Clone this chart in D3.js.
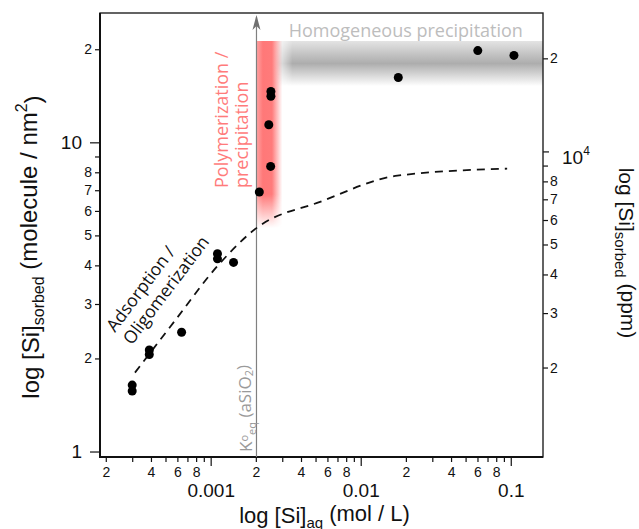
<!DOCTYPE html>
<html>
<head>
<meta charset="utf-8">
<script src="https://cdn.jsdelivr.net/npm/d3@7"></script>
<style>
  body { margin: 0; background: #fff; }
  svg { display: block; }
</style>
</head>
<body>
<div id="chart-area"></div>
<script>
// measured points: [Si]aq (mol/L) vs sorbed Si (molecule / nm2)
var siAq = [3.0e-4, 3.0e-4, 3.9e-4, 3.9e-4, 6.4e-4, 1.11e-3, 1.11e-3, 1.42e-3,
  2.11e-3, 2.51e-3, 2.44e-3, 2.52e-3, 2.52e-3, 0.0178, 0.0603, 0.105];
var siSorbed = [1.64, 1.57, 2.13, 2.06, 2.43, 4.36, 4.20, 4.09,
  6.91, 8.36, 11.4, 14.6, 14.1, 16.2, 19.8, 19.1];

// dashed model curve
var modelAq = [3.13e-4, 5.78e-4, 1.10e-3, 2.04e-3, 5.36e-3, 0.01754, 0.0946];
var modelSorbed = [1.80, 2.65, 3.96, 5.30, 6.42, 7.80, 8.22];

// ticks
var xMinorTicks = [2e-4, 3e-4, 4e-4, 5e-4, 6e-4, 7e-4, 8e-4, 9e-4,
  2e-3, 3e-3, 4e-3, 5e-3, 6e-3, 7e-3, 8e-3, 9e-3,
  0.02, 0.03, 0.04, 0.05, 0.06, 0.07, 0.08, 0.09];
var xMinorLabelled = [2, 4, 6, 8];
var xMajorTicks = [0.001, 0.01, 0.1];
var xMajorLabels = ["0.001", "0.01", "0.1"];
var yMinorTicks = [2, 3, 4, 5, 6, 7, 8, 9, 20];
var yMajorTicks = [1, 10];
var yMajorLabels = ["1", "10"];
var ppmMinorTicks = [2000, 3000, 4000, 5000, 6000, 7000, 8000, 9000, 20000];
var ppmMajorTicks = [10000];
var minorUnlabelled = [9];

var kEq = 0.00202;        // K°eq of amorphous silica
var ppmFactor = 1070;     // molecule/nm2 -> ppm
var polyBand = { aq: [kEq, 0.0030], sorbed: [5.28, 21.3] };
var homoBand = { aq: [0.0024, 0.164], sorbed: [15.2, 21.3] };

var margin = { top: 13, right: 96, bottom: 72, left: 100 };
var width = 639 - margin.left - margin.right;
var height = 529 - margin.top - margin.bottom;

var tickFont = "'Liberation Sans', Arial, sans-serif";
var noteFont = "'Open Sans', 'Noto Sans', sans-serif";

var svg = d3.select("#chart-area")
  .append("svg")
  .attr("width", width + margin.left + margin.right)
  .attr("height", height + margin.top + margin.bottom);

var defs = svg.append("defs");

var redGrad = defs.append("linearGradient").attr("id", "redGrad")
  .attr("x1", 0).attr("x2", 1).attr("y1", 0).attr("y2", 0);
redGrad.append("stop").attr("offset", 0).attr("stop-color", "#ffa3a3");
redGrad.append("stop").attr("offset", 0.25).attr("stop-color", "#ff7878");
redGrad.append("stop").attr("offset", 0.6).attr("stop-color", "#ff7b7b");
redGrad.append("stop").attr("offset", 1).attr("stop-color", "#ff7b7b").attr("stop-opacity", 0);

var redFade = defs.append("linearGradient").attr("id", "redFade")
  .attr("x1", 0).attr("x2", 0).attr("y1", 0).attr("y2", 1);
redFade.append("stop").attr("offset", 0.82).attr("stop-color", "#fff");
redFade.append("stop").attr("offset", 1).attr("stop-color", "#000");

var grayGrad = defs.append("linearGradient").attr("id", "grayGrad")
  .attr("x1", 0).attr("x2", 0).attr("y1", 0).attr("y2", 1);
grayGrad.append("stop").attr("offset", 0).attr("stop-color", "#e4e4e4");
grayGrad.append("stop").attr("offset", 0.5).attr("stop-color", "#adadad");
grayGrad.append("stop").attr("offset", 1).attr("stop-color", "#ffffff");

var grayFade = defs.append("linearGradient").attr("id", "grayFade")
  .attr("x1", 0).attr("x2", 1).attr("y1", 0).attr("y2", 0);
grayFade.append("stop").attr("offset", 0.02).attr("stop-color", "#000");
grayFade.append("stop").attr("offset", 0.09).attr("stop-color", "#fff");

var g = svg.append("g")
  .attr("transform", "translate(" + margin.left + "," + margin.top + ")");

var x = d3.scaleLog()
  .domain([1.83e-4, 0.164])
  .range([0, width]);

var y = d3.scaleLog()
  .domain([0.96, 26.2])
  .range([height, 0]);

var yPpm = d3.scaleLog()
  .domain(y.domain().map(d => d * ppmFactor))
  .range([height, 0]);

function mant(d) {
  return Math.round(d / Math.pow(10, Math.floor(Math.log10(d) + 1e-9)));
}

// shaded regions
function bandRect(band, id, fill, fade) {
  var x0 = x(band.aq[0]), x1 = x(band.aq[1]);
  var y0 = y(band.sorbed[1]), y1 = y(band.sorbed[0]);
  var m = defs.append("mask").attr("id", id + "Mask")
    .attr("maskUnits", "userSpaceOnUse")
    .attr("x", x0).attr("y", y0).attr("width", x1 - x0).attr("height", y1 - y0);
  m.append("rect")
    .attr("x", x0).attr("y", y0).attr("width", x1 - x0).attr("height", y1 - y0)
    .attr("fill", "url(#" + fade + ")");
  g.append("rect")
    .attr("x", x0).attr("y", y0)
    .attr("width", x1 - x0).attr("height", y1 - y0)
    .attr("fill", fill)
    .attr("mask", "url(#" + id + "Mask)");
}
bandRect(homoBand, "gray", "url(#grayGrad)", "grayFade");
bandRect(polyBand, "red", "url(#redGrad)", "redFade");

// axes
function styleAxis(sel, size) {
  sel.select(".domain").remove();
  sel.selectAll(".tick line").attr("stroke", "#111").attr("stroke-width", 1.2);
  sel.selectAll("text").attr("fill", "#111")
    .attr("font-family", tickFont).attr("font-size", size);
}

var xMinor = g.append("g")
  .attr("transform", "translate(0," + height + ")")
  .call(d3.axisBottom(x).tickValues(xMinorTicks).tickSize(5).tickPadding(5)
    .tickFormat(d => xMinorLabelled.indexOf(mant(d)) >= 0 ? mant(d) : ""));
styleAxis(xMinor, "14px");

var xMajor = g.append("g")
  .attr("transform", "translate(0," + height + ")")
  .call(d3.axisBottom(x).tickValues(xMajorTicks).tickSize(9).tickPadding(18)
    .tickFormat((d, i) => xMajorLabels[i]));
styleAxis(xMajor, "19px");

var yMinor = g.append("g")
  .call(d3.axisLeft(y).tickValues(yMinorTicks).tickSize(5).tickPadding(3)
    .tickFormat(d => minorUnlabelled.indexOf(mant(d)) >= 0 ? "" : mant(d)));
styleAxis(yMinor, "14px");

var yMajor = g.append("g")
  .call(d3.axisLeft(y).tickValues(yMajorTicks).tickSize(10).tickPadding(8)
    .tickFormat((d, i) => yMajorLabels[i]));
styleAxis(yMajor, "19px");

var rMinor = g.append("g")
  .attr("transform", "translate(" + width + ",0)")
  .call(d3.axisRight(yPpm).tickValues(ppmMinorTicks).tickSize(5).tickPadding(2)
    .tickFormat(d => minorUnlabelled.indexOf(mant(d)) >= 0 ? "" : mant(d)));
styleAxis(rMinor, "14px");

var rMajor = g.append("g")
  .attr("transform", "translate(" + width + ",0)")
  .call(d3.axisRight(yPpm).tickValues(ppmMajorTicks).tickSize(6).tickPadding(13)
    .tickFormat(() => "10"));
styleAxis(rMajor, "19px");
rMajor.selectAll("text").attr("dy", "0.65em")
  .append("tspan").attr("dy", "-0.75em").attr("font-size", "12px")
  .text(d => Math.round(Math.log10(d)));

// frame
g.append("rect")
  .attr("width", width).attr("height", height)
  .attr("fill", "none").attr("stroke", "#222").attr("stroke-width", 1.4);
g.append("path")
  .attr("d", "M0,0V" + height + "H" + width)
  .attr("fill", "none").attr("stroke", "#111").attr("stroke-width", 2);

// K°eq arrow
var kx = x(kEq);
g.append("line")
  .attr("x1", kx).attr("x2", kx)
  .attr("y1", height).attr("y2", 4)
  .attr("stroke", "#808080").attr("stroke-width", 1.2);
g.append("path")
  .attr("d", "M" + kx + ",2L" + (kx - 4) + ",17L" + kx + ",13L" + (kx + 4) + ",17Z")
  .attr("fill", "#707070");

var kLabel = g.append("text")
  .attr("transform", "translate(" + (kx - 4) + "," + (height - 5) + ") rotate(-90)")
  .attr("font-family", noteFont).attr("font-size", "17px").attr("fill", "#9a9a9a");
kLabel.append("tspan").text("K");
kLabel.append("tspan").attr("dy", "-0.45em").attr("font-size", "11px").text("o");
kLabel.append("tspan").attr("dy", "0.75em").attr("font-size", "11px").text("eq");
kLabel.append("tspan").attr("dy", "-0.3em").text(" (aSiO");
kLabel.append("tspan").attr("dy", "0.25em").attr("font-size", "11px").text("2");
kLabel.append("tspan").attr("dy", "-0.25em").text(")");

// model curve
var line = d3.line()
  .x(d => x(d[0]))
  .y(d => y(d[1]))
  .curve(d3.curveMonotoneX);
g.append("path")
  .datum(modelAq.map((d, i) => [d, modelSorbed[i]]))
  .attr("d", line)
  .attr("fill", "none").attr("stroke", "#111")
  .attr("stroke-width", 1.8).attr("stroke-dasharray", "8,6");

// points
g.selectAll("circle")
  .data(siAq.map((d, i) => [d, siSorbed[i]]))
  .enter().append("circle")
  .attr("cx", d => x(d[0]))
  .attr("cy", d => y(d[1]))
  .attr("r", 4.5)
  .attr("fill", "#000");

// region notes
g.append("text")
  .attr("x", x(homoBand.aq[0]) + 21).attr("y", 24)
  .attr("font-family", noteFont).attr("font-size", "18px").attr("fill", "#bdbdbd")
  .text("Homogeneous precipitation");

var poly = g.append("text")
  .attr("transform", "translate(" + (kx - 28) + ",175) rotate(-90)")
  .attr("font-family", noteFont).attr("font-size", "18px").attr("fill", "#ff7b7b");
poly.append("tspan").attr("x", 0).attr("y", 0).text("Polymerization /");
poly.append("tspan").attr("x", 0).attr("y", 20).text("precipitation");

var ads = g.append("text")
  .attr("transform", "translate(15,320) rotate(-53)")
  .attr("font-family", noteFont).attr("font-size", "17.5px").attr("fill", "#111");
ads.append("tspan").attr("x", 0).attr("y", 0).text("Adsorption /");
ads.append("tspan").attr("x", 0).attr("y", 21).text("Oligomerization");

// axis titles
var xTitle = g.append("text")
  .attr("x", width / 2 + 3).attr("y", height + 66)
  .attr("text-anchor", "middle")
  .attr("font-family", tickFont).attr("font-size", "22px").attr("fill", "#111");
xTitle.append("tspan").text("log [Si]");
xTitle.append("tspan").attr("dy", "0.3em").attr("font-size", "15px").text("aq");
xTitle.append("tspan").attr("dy", "-0.3em").text(" (mol / L)");

var yTitle = g.append("text")
  .attr("transform", "translate(" + (-61) + "," + (height / 2 + 12) + ") rotate(-90)")
  .attr("text-anchor", "middle")
  .attr("font-family", tickFont).attr("font-size", "24px").attr("fill", "#111");
yTitle.append("tspan").text("log [Si]");
yTitle.append("tspan").attr("dy", "0.3em").attr("font-size", "16px").text("sorbed");
yTitle.append("tspan").attr("dy", "-0.3em").text(" (molecule / nm");
yTitle.append("tspan").attr("dy", "-0.6em").attr("font-size", "16px").text("2");
yTitle.append("tspan").attr("dy", "0.6em").text(")");

var rTitle = g.append("text")
  .attr("transform", "translate(" + (width + 76) + "," + (height / 2 + 18) + ") rotate(90)")
  .attr("text-anchor", "middle")
  .attr("font-family", tickFont).attr("font-size", "21px").attr("fill", "#111");
rTitle.append("tspan").text("log [Si]");
rTitle.append("tspan").attr("dy", "0.3em").attr("font-size", "15px").text("sorbed");
rTitle.append("tspan").attr("dy", "-0.3em").text(" (ppm)");
</script>
</body>
</html>
